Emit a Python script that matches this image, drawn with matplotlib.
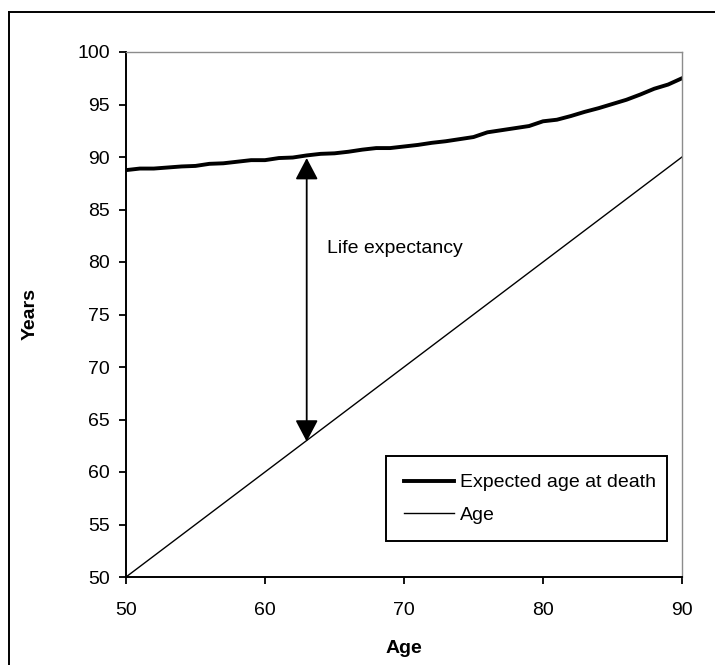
import matplotlib
matplotlib.use("Agg")
import matplotlib.pyplot as plt
from matplotlib.lines import Line2D
from matplotlib.patches import FancyArrowPatch

plt.rcParams['font.family'] = ['Liberation Sans', 'DejaVu Sans']

# Age (x) and expected age at death
ages = [50, 51, 52, 53, 54, 55, 56, 57, 58, 59, 60, 61, 62, 63, 64, 65, 66, 67, 68, 69, 70,
        71, 72, 73, 74, 75, 76, 77, 78, 79, 80, 81, 82, 83, 84, 85, 86, 87, 88, 89, 90]
expected_death = [88.75, 88.9, 88.9, 89.0, 89.1, 89.15, 89.35, 89.4, 89.55, 89.7, 89.7,
                  89.9, 89.95, 90.15, 90.3, 90.35, 90.5, 90.7, 90.85, 90.85, 91.0,
                  91.15, 91.35, 91.5, 91.7, 91.9, 92.35, 92.55, 92.75, 92.95, 93.4,
                  93.55, 93.9, 94.3, 94.65, 95.05, 95.45, 95.95, 96.5, 96.9, 97.5]
age_line = ages

x_ticks = [50, 60, 70, 80, 90]
y_ticks = [50, 55, 60, 65, 70, 75, 80, 85, 90, 95, 100]

# arrow annotation
arrow_x = 63
arrow_bottom = 62.9
arrow_top = 89.9

fig = plt.figure(figsize=(7.15, 6.65), dpi=100)
ax = fig.add_axes([126 / 715, 1 - 577 / 665, 556 / 715, 525 / 665])

ax.plot(ages, expected_death, color='black', linewidth=2.8, label='Expected age at death',
        solid_joinstyle='round')
ax.plot(ages, age_line, color='black', linewidth=1.0, label='Age')

ax.set_xlim(50, 90)
ax.set_ylim(50, 100)
ax.set_xticks(x_ticks)
ax.set_yticks(y_ticks)
ax.tick_params(axis='both', direction='out', length=5, width=1.3, labelsize=14, colors='black')
ax.tick_params(axis='y', pad=6.5)
ax.tick_params(axis='x', pad=13)

for s in ['left', 'bottom']:
    ax.spines[s].set_color('black')
    ax.spines[s].set_linewidth(1.4)
for s in ['top', 'right']:
    ax.spines[s].set_color('#8c8c8c')
    ax.spines[s].set_linewidth(1.0)

ax.set_xlabel('Age', fontsize=14, fontweight='bold')
ax.set_ylabel('Years', fontsize=14, fontweight='bold')
ax.xaxis.set_label_coords(0.5, -0.12)
ax.yaxis.set_label_coords(-0.157, 0.5)

arr = FancyArrowPatch((arrow_x, arrow_bottom), (arrow_x, arrow_top),
                      arrowstyle='<|-|>,head_length=0.95,head_width=0.5',
                      mutation_scale=14, color='black', linewidth=1.3, shrinkA=0, shrinkB=0)
ax.add_patch(arr)
ax.text(64.45, 81.3, 'Life expectancy', fontsize=14, ha='left', va='center')

leg = ax.legend(loc='lower left', bbox_to_anchor=(260 / 556, 36 / 525, 281 / 556, 0.2),
                mode='expand', borderaxespad=0, fancybox=False, framealpha=1,
                edgecolor='black', fontsize=14, handlelength=2.6, handletextpad=0.3,
                labelspacing=0.75, borderpad=0.9)
leg.get_frame().set_linewidth(1.4)

# outer frame, only top and left edges are visible in the original
fig.add_artist(Line2D([9 / 715, 9 / 715], [0, 1 - 12 / 665], color='black', linewidth=1.4))
fig.add_artist(Line2D([9 / 715, 1], [1 - 12 / 665, 1 - 12 / 665], color='black', linewidth=1.4))

fig.savefig('out.png', dpi=100)
